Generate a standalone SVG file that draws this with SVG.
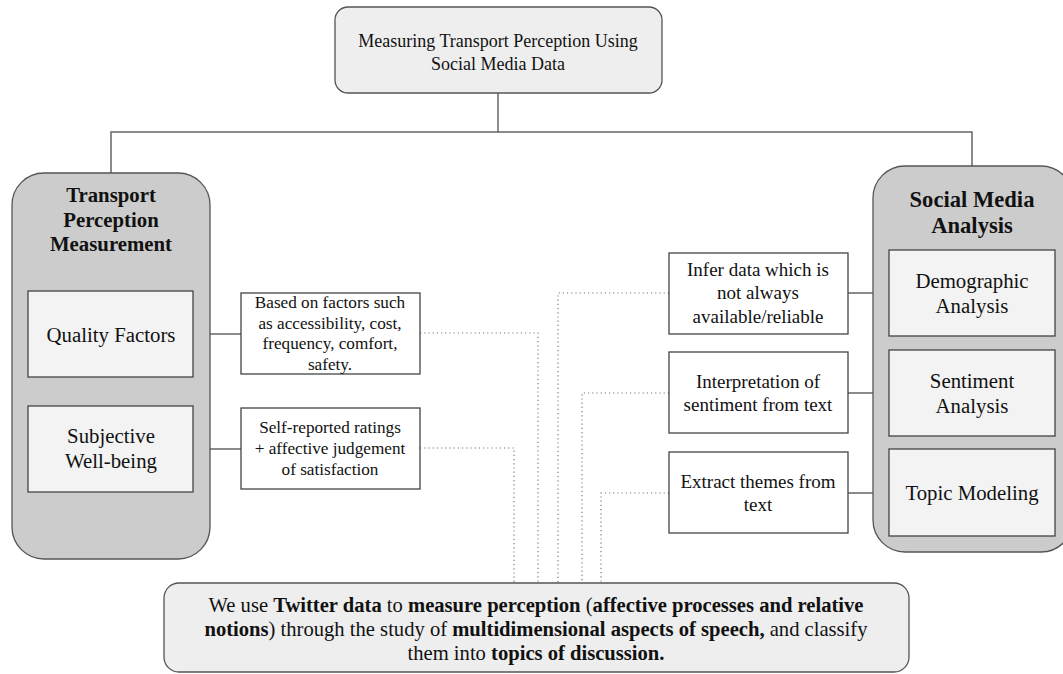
<svg xmlns="http://www.w3.org/2000/svg" width="1063" height="674" viewBox="0 0 1063 674">
<style>
text{font-family:"Liberation Serif","Times New Roman",serif;fill:#111;text-anchor:middle}
.top{fill:#eeeeee;stroke:#555;stroke-width:1.3}
.panel{fill:#cccccc;stroke:#555;stroke-width:1.3}
.inner{fill:#f3f3f3;stroke:#444;stroke-width:1.3}
.desc{fill:#fff;stroke:#444;stroke-width:1.3}
.ln{fill:none;stroke:#666;stroke-width:1.5}
.dot{fill:none;stroke:#777;stroke-width:1.2;stroke-dasharray:1.2 3}
.t18{font-size:18px}
.t20{font-size:20.8px}
.b{font-weight:bold}
.d16{font-size:17.2px}
.d19{font-size:19px}
.sum{font-size:20.6px}
</style>
<g id="connectors">
<polyline class="ln" points="498,93 498,132"/>
<polyline class="ln" points="111,173 111,132 972,132 972,166"/>
<line class="ln" x1="193" y1="334" x2="241" y2="334"/>
<line class="ln" x1="193" y1="449" x2="241" y2="449"/>
<line class="ln" x1="848" y1="293" x2="889" y2="293"/>
<line class="ln" x1="848" y1="393" x2="889" y2="393"/>
<line class="ln" x1="848" y1="493" x2="889" y2="493"/>
<polyline class="dot" points="420,333 538,333 538,583"/>
<polyline class="dot" points="420,448 514,448 514,583"/>
<polyline class="dot" points="669,293 558,293 558,583"/>
<polyline class="dot" points="669,393 582,393 582,583"/>
<polyline class="dot" points="669,493 601,493 601,583"/>
</g>
<g id="root">
<rect class="top" x="335" y="7" width="327" height="86" rx="13"/>
<text class="t18" x="498" y="47">Measuring Transport Perception Using</text>
<text class="t18" x="498" y="70">Social Media Data</text>
</g>
<g id="tpm">
<rect class="panel" x="12" y="173" width="198" height="386" rx="32"/>
<text class="t20 b" x="111" y="202">Transport</text>
<text class="t20 b" x="111" y="227">Perception</text>
<text class="t20 b" x="111" y="251">Measurement</text>
</g>
<g id="quality">
<rect class="inner" x="28" y="291" width="165" height="86"/>
<text class="t20" x="111" y="342">Quality Factors</text>
</g>
<g id="swb">
<rect class="inner" x="28" y="406" width="165" height="86"/>
<text class="t20" x="111" y="443">Subjective</text>
<text class="t20" x="111" y="468">Well-being</text>
</g>
<g id="desc-quality">
<rect class="desc" x="241" y="293" width="179" height="81"/>
<text class="d16" x="330" y="308">Based on factors such</text>
<text class="d16" x="330" y="329">as accessibility, cost,</text>
<text class="d16" x="330" y="349">frequency, comfort,</text>
<text class="d16" x="330" y="370">safety.</text>
</g>
<g id="desc-swb">
<rect class="desc" x="241" y="408" width="179" height="81"/>
<text class="d16" x="330" y="433">Self-reported ratings</text>
<text class="d16" x="330" y="454">+ affective judgement</text>
<text class="d16" x="330" y="475">of satisfaction</text>
</g>
<g id="sma">
<rect class="panel" x="873" y="166" width="200" height="386" rx="32"/>
<text class="b" style="font-size:22.6px" x="972" y="207">Social Media</text>
<text class="b" style="font-size:22.6px" x="972" y="233">Analysis</text>
</g>
<g id="demographic">
<rect class="inner" x="889" y="250" width="166" height="86"/>
<text class="t20" x="972" y="288">Demographic</text>
<text class="t20" x="972" y="313">Analysis</text>
</g>
<g id="sentiment">
<rect class="inner" x="889" y="350" width="166" height="86"/>
<text class="t20" x="972" y="388">Sentiment</text>
<text class="t20" x="972" y="413">Analysis</text>
</g>
<g id="topic">
<rect class="inner" x="889" y="449" width="166" height="87"/>
<text class="t20" x="972" y="500">Topic Modeling</text>
</g>
<g id="desc-demographic">
<rect class="desc" x="669" y="253" width="179" height="81"/>
<text class="d19" x="758" y="276">Infer data which is</text>
<text class="d19" x="758" y="299">not always</text>
<text class="d19" x="758" y="323">available/reliable</text>
</g>
<g id="desc-sentiment">
<rect class="desc" x="669" y="352" width="179" height="81"/>
<text class="d19" x="758" y="388">Interpretation of</text>
<text class="d19" x="758" y="411">sentiment from text</text>
</g>
<g id="desc-topic">
<rect class="desc" x="669" y="452" width="179" height="81"/>
<text class="d19" x="758" y="488">Extract themes from</text>
<text class="d19" x="758" y="511">text</text>
</g>
<g id="summary">
<rect class="top" x="164" y="583" width="745" height="89" rx="15"/>
<text class="sum" x="536" y="612">We use <tspan class="b">Twitter data</tspan> to <tspan class="b">measure perception</tspan> (<tspan class="b">affective processes and relative</tspan></text>
<text class="sum" x="536" y="636"><tspan class="b">notions</tspan>) through the study of <tspan class="b">multidimensional aspects of speech,</tspan> and classify</text>
<text class="sum" x="536" y="660">them into <tspan class="b">topics of discussion.</tspan></text>
</g>
</svg>
